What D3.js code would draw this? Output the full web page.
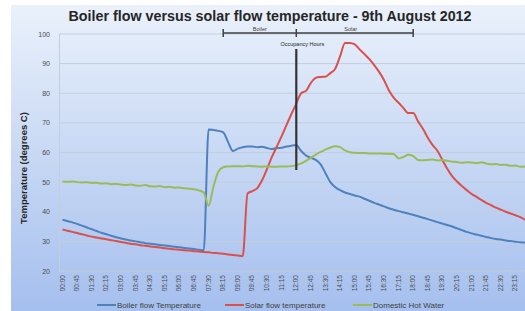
<!DOCTYPE html>
<html lang="en">
<head>
<meta charset="UTF-8">
<title>Boiler flow versus solar flow temperature</title>
<script src="https://d3js.org/d3.v7.min.js"></script>
<style>
    body { margin: 0; background: #fff; }
    text { font-family: "Liberation Sans", Arial, sans-serif; }
</style>
</head>
<body>
<div id="chart"></div>
<script>
    // readings every 15 minutes, 00:00 .. 23:45
    const boilerFlow = [
        37.3, 36.9, 36.4, 35.9, 35.3, 34.7, 34.1, 33.5, 32.9, 32.4,
        31.9, 31.4, 31.0, 30.6, 30.3, 30.0, 29.7, 29.4, 29.2, 29.0,
        28.8, 28.6, 28.4, 28.2, 28.0, 27.8, 27.6, 27.4, 27.2, 27.0,
        67.8, 67.6, 67.3, 66.8, 63.5, 60.5, 61.3, 61.8, 62.0, 62.0,
        61.8, 61.9, 61.5, 61.2, 61.5, 61.6, 62.0, 62.3, 62.5, 60.5,
        59.0, 58.2, 57.5, 56.0, 53.0, 50.0, 48.3, 47.3, 46.5, 46.0,
        45.5, 45.1, 44.4, 43.7, 43.0, 42.4, 41.8, 41.2, 40.7, 40.2,
        39.8, 39.4, 39.0, 38.5, 38.0, 37.5, 37.0, 36.5, 36.0, 35.5,
        35.0, 34.4, 33.8, 33.2, 32.7, 32.3, 31.9, 31.5, 31.1, 30.8,
        30.6, 30.3, 30.1, 29.9, 29.7, 29.6
    ];
    const solarFlow = [
        34.0, 33.6, 33.2, 32.8, 32.4, 32.0, 31.6, 31.3, 31.0, 30.7,
        30.4, 30.1, 29.8, 29.5, 29.2, 29.0, 28.7, 28.5, 28.3, 28.1,
        27.9, 27.7, 27.5, 27.3, 27.2, 27.0, 26.9, 26.7, 26.6, 26.4,
        26.3, 26.1, 26.0, 25.8, 25.6, 25.4, 25.2, 25.0, 46.2, 47.0,
        48.0, 50.7, 54.5, 58.5, 62.0, 65.5, 69.3, 73.0, 76.5, 80.0,
        80.8, 83.5, 85.2, 85.5, 85.6, 86.8, 88.3, 92.5, 97.0, 97.0,
        96.5, 94.8, 93.2, 91.5, 89.5, 87.2, 84.5, 81.0, 78.5, 76.8,
        75.0, 73.3, 73.3, 70.5, 68.0, 65.0, 62.5, 60.5, 57.5, 54.5,
        52.0, 50.2, 48.7, 47.3, 46.0, 45.0, 44.0, 43.0, 42.2, 41.4,
        40.7, 40.0, 39.4, 38.8, 38.2, 37.3
    ];
    const hotWater = [
        50.2, 50.1, 50.2, 50.0, 49.9, 50.0, 49.7, 49.8, 49.5, 49.6,
        49.3, 49.4, 49.2, 49.0, 49.2, 48.9, 48.8, 49.0, 48.6, 48.5,
        48.7, 48.3, 48.4, 48.1, 48.2, 47.9, 47.8, 47.6, 47.2, 46.5,
        42.0, 48.5, 53.5, 55.0, 55.3, 55.4, 55.4, 55.3, 55.5, 55.4,
        55.3, 55.2, 55.3, 55.2, 55.2, 55.3, 55.3, 55.4, 55.7, 56.3,
        57.2, 58.2, 59.3, 60.2, 61.0, 61.7, 62.1, 61.8, 60.7, 60.1,
        59.9, 59.8, 59.8, 59.7, 59.7, 59.7, 59.6, 59.6, 59.5, 58.0,
        58.5, 59.2, 58.8, 57.5, 57.4, 57.5, 57.6, 57.3, 57.5, 57.2,
        56.9, 56.8, 56.5, 56.7, 56.6, 56.4, 56.7, 56.3, 56.0, 56.1,
        55.8, 55.9, 55.5, 55.6, 55.2, 55.3
    ];
    const tickLabels = [
        "00:00", "00:45", "01:30", "02:15", "03:00", "03:45", "04:30", "05:15",
        "06:00", "06:45", "07:30", "08:15", "09:00", "09:45", "10:30", "11:15",
        "12:00", "12:45", "13:30", "14:15", "15:00", "15:45", "16:30", "17:15",
        "18:00", "18:45", "19:30", "20:15", "21:00", "21:45", "22:30", "23:15"
    ];
    const yTicks = [20, 30, 40, 50, 60, 70, 80, 90, 100];
    const seriesNames = ["Boiler flow Temperature", "Solar flow temperature", "Domestic Hot Water"];
    const colors = ["#4f81bd", "#d9504c", "#9bbb59"];

    // occupancy annotation (times)
    const boilerStart = "08:15";
    const solarStart = "12:00";
    const solarEnd = "18:00";

    const width = 525;
    const height = 311;

    const toIndex = t => {
        const [h, m] = t.split(":").map(Number);
        return (h * 60 + m) / 15;
    };

    const x = d3.scaleLinear().domain([0, 95]).range([62.5, 525.2]);
    const y = d3.scaleLinear().domain([20, 100]).range([271, 34]);

    const svg = d3.select("#chart").append("svg")
        .attr("width", width)
        .attr("height", height);

    const defs = svg.append("defs");
    const bg = defs.append("linearGradient").attr("id", "bg")
        .attr("x1", 0).attr("y1", 0).attr("x2", 0).attr("y2", 1);
    bg.append("stop").attr("offset", "0%").attr("stop-color", "#eaf1fb");
    bg.append("stop").attr("offset", "100%").attr("stop-color", "#a5bfee");

    svg.append("rect").attr("width", width).attr("height", height).attr("fill", "#ffffff");
    svg.append("rect")
        .attr("x", 11).attr("y", 5)
        .attr("width", width - 11).attr("height", height - 5)
        .attr("fill", "url(#bg)");

    // gridlines
    svg.append("g")
        .selectAll("line")
        .data(yTicks)
        .join("line")
        .attr("x1", 59).attr("x2", width)
        .attr("y1", d => y(d)).attr("y2", d => y(d))
        .attr("stroke", "#c3cedd")
        .attr("stroke-width", 1);

    svg.append("line")
        .attr("x1", 59.5).attr("x2", 59.5)
        .attr("y1", y(100)).attr("y2", y(20))
        .attr("stroke", "#c3cedd");

    // y axis labels
    svg.append("g")
        .selectAll("text")
        .data(yTicks)
        .join("text")
        .attr("x", 50)
        .attr("y", d => y(d) + 2.5)
        .attr("text-anchor", "end")
        .attr("font-size", 7)
        .attr("fill", "#4d4d4d")
        .text(d => d);

    svg.append("text")
        .attr("transform", "translate(27,168) rotate(-90)")
        .attr("text-anchor", "middle")
        .attr("font-size", 9.5)
        .attr("font-weight", "bold")
        .attr("fill", "#262626")
        .text("Temperature (degrees C)");

    // x tick labels every 45 min
    svg.append("g")
        .selectAll("text")
        .data(tickLabels)
        .join("text")
        .attr("transform", d => `translate(${x(toIndex(d)) + 2},275) rotate(-90)`)
        .attr("text-anchor", "end")
        .attr("font-size", 6.5)
        .attr("fill", "#4d4d4d")
        .text(d => d);

    // lines
    const line = d3.line()
        .x((d, i) => x(i))
        .y(d => y(d))
        .curve(d3.curveMonotoneX);

    svg.append("g")
        .selectAll("path")
        .data([boilerFlow, solarFlow, hotWater])
        .join("path")
        .attr("d", line)
        .attr("fill", "none")
        .attr("stroke", (d, i) => colors[i])
        .attr("stroke-width", 2)
        .attr("stroke-linejoin", "round");

    // occupancy marker
    svg.append("line")
        .attr("x1", x(toIndex(solarStart))).attr("x2", x(toIndex(solarStart)))
        .attr("y1", 49).attr("y2", 170)
        .attr("stroke", "#333")
        .attr("stroke-width", 2.2);

    svg.append("text")
        .attr("x", x(toIndex(solarStart)) + 6)
        .attr("y", 46)
        .attr("text-anchor", "middle")
        .attr("font-size", 5.5)
        .attr("fill", "#262626")
        .text("Occupancy Hours");

    const bracketY = 33;
    const bx = [boilerStart, solarStart, solarEnd].map(t => x(toIndex(t)));
    svg.append("line")
        .attr("x1", bx[0]).attr("x2", bx[2])
        .attr("y1", bracketY).attr("y2", bracketY)
        .attr("stroke", "#404040").attr("stroke-width", 1.5);
    svg.append("g")
        .selectAll("line")
        .data(bx)
        .join("line")
        .attr("x1", d => d).attr("x2", d => d)
        .attr("y1", bracketY - 4).attr("y2", bracketY + 4)
        .attr("stroke", "#404040").attr("stroke-width", 1.5);

    svg.append("text")
        .attr("x", (bx[0] + bx[1]) / 2).attr("y", bracketY - 2)
        .attr("text-anchor", "middle").attr("font-size", 5.5).attr("fill", "#404040")
        .text("Boiler");
    svg.append("text")
        .attr("x", (bx[1] + bx[2]) / 2 - 4).attr("y", bracketY - 2)
        .attr("text-anchor", "middle").attr("font-size", 5.5).attr("fill", "#404040")
        .text("Solar");

    // title
    svg.append("text")
        .attr("x", 270).attr("y", 21)
        .attr("text-anchor", "middle")
        .attr("font-size", 14.3)
        .attr("font-weight", "bold")
        .attr("fill", "#262626")
        .text("Boiler flow versus solar flow temperature - 9th August 2012");

    // legend
    const legendX = [97, 225, 353];
    const legend = svg.append("g")
        .selectAll("g")
        .data(seriesNames)
        .join("g")
        .attr("transform", (d, i) => `translate(${legendX[i]},305)`);
    legend.append("line")
        .attr("x1", 0).attr("x2", 19)
        .attr("stroke", (d, i) => colors[i])
        .attr("stroke-width", 2);
    legend.append("text")
        .attr("x", 20).attr("y", 2.6)
        .attr("font-size", 8)
        .attr("fill", "#404040")
        .text(d => d);
</script>
</body>
</html>
